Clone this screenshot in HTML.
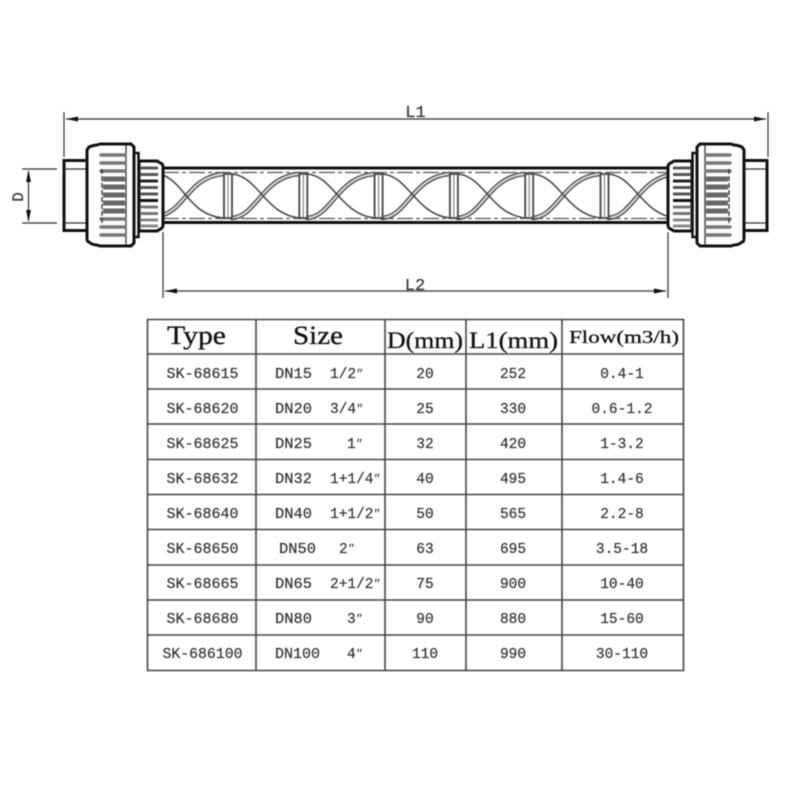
<!DOCTYPE html>
<html><head><meta charset="utf-8"><style>
html,body{margin:0;padding:0;background:#fff}
svg{display:block;filter:blur(.45px)}
.m{font-family:"Liberation Mono",monospace;font-size:14.500px;fill:#333;stroke:#333;stroke-width:.2;text-anchor:middle}
.l{text-anchor:start}
.q{font-family:"Liberation Serif",serif;font-style:italic;font-size:14px}
.h{font-family:"Liberation Serif",serif;fill:#111;stroke:#111;stroke-width:.3}
.t line{stroke:#444;stroke-width:1.600}
</style></head><body>
<svg width="800" height="800" viewBox="0 0 800 800" xmlns="http://www.w3.org/2000/svg">
<defs>
<g id="fit">
<path d="M87 160.500H64V230.500H87" fill="#fff" stroke="#111" stroke-width="3"/>
<path d="M65 169H102M65 223H102M102 169V223" fill="none" stroke="#333" stroke-width="1.300"/>
<path d="M134 153h4.500v84H134z" fill="#fff" stroke="#111" stroke-width="2.500"/>
<path d="M89 147q5-2 8-2l3-1h31l3 3v96l-3 3h-31l-3-1q-5 0-8-3q-2 0-2-4V150z" fill="#fff" stroke="#111" stroke-width="3"/>
<path d="M126 145V245" stroke="#333" stroke-width="1.300" fill="none"/>
<g stroke="#777" stroke-width="3.500" fill="none" stroke-linecap="round">
<path d="M101 155H125M101 163H125M101 171H125M101 219H125M101 227H125M101 235H125"/>
</g>
<g stroke="#666" stroke-width="5" fill="none">
<path d="M103 179H125M103 187H125M103 195H125M103 203H125M103 211H125"/>
</g>
<path d="M102 169V223" stroke="#333" stroke-width="1.300" stroke-dasharray="5 2" fill="none"/>
<path d="M139 161h18l5 3q1 1 1 3v58q0 2-1 3l-5 3h-18z" fill="#fff" stroke="#111" stroke-width="3"/>
<g stroke="#555" stroke-width="3" fill="none">
<path d="M140 168H158M140 174.500H158"/>
<path d="M140 181H158" stroke="#222"/>
<path d="M140 187.500H158M140 194H158"/>
<path d="M140 200.500H158" stroke="#111"/>
<path d="M140 207H158M140 213.500H158" stroke="#777"/>
<path d="M140 220H158M140 226H158" stroke="#888"/>
</g>
</g>
<g id="tw" fill="none" stroke-linecap="round">
<path d="M232 218C257 216 262 177 299 174" stroke="#444" stroke-width="4.500"/>
<path d="M232 218C257 216 262 177 299 174" stroke="#ddd" stroke-width="2"/>
<path d="M232 174C258 176 265 214 299 218" stroke="#444" stroke-width="1.500"/>
</g>
<g id="pt">
<rect x="224" y="174" width="8" height="44" fill="#fff" stroke="#444" stroke-width="1.800"/>
<path d="M228 174V218" stroke="#888" stroke-width="1.200"/>
</g>
</defs>

<!-- dimensions -->
<g stroke="#333" stroke-width="1.200" fill="none">
<path d="M64 112V157M768 112V157"/>
<path d="M66 119H766"/>
<path d="M163 232V298M668 232V298" stroke="#555" stroke-width="1.500"/>
<path d="M165 291H666" stroke="#555" stroke-width="1.500"/>
<path d="M22 169H57M22 223H57"/>
<path d="M28.500 171V221"/>
</g>
<g fill="#111">
<path d="M66 119L78 116.500V121.500z"/><path d="M766 119L754 116.500V121.500z"/>
<path d="M165 291L177 288.500V293.500z"/><path d="M666 291L654 288.500V293.500z"/>
<path d="M28.500 170L26 182H31z"/><path d="M28.500 222L26 210H31z"/>
</g>
<text x="415.500" y="117" class="m" style="font-size:17px">L1</text>
<text x="415" y="290" class="m" style="font-size:17px">L2</text>
<text class="m" style="font-size:16px" transform="translate(23 197) rotate(-90)">D</text>

<!-- pipe -->
<rect x="163" y="168" width="505" height="54.500" fill="#fff" stroke="#111" stroke-width="3"/>
<g fill="none" stroke-linecap="round">
<path d="M163 215C185 208 190 177 223 174" stroke="#444" stroke-width="4.500"/>
<path d="M163 215C185 208 190 177 223 174" stroke="#ddd" stroke-width="2"/>
<path d="M163 175C185 184 190 215 223 218" stroke="#444" stroke-width="1.500"/>
</g>
<use href="#tw"/>
<use href="#tw" x="75.300"/>
<use href="#tw" x="150.600"/>
<use href="#tw" x="225.900"/>
<use href="#tw" x="301.200"/>
<use href="#tw" x="376.500"/>
<path d="M163 172.500H668M163 218.500H668" stroke="#555" stroke-width="1.300" stroke-dasharray="16 3 4 3" fill="none"/>
<use href="#pt"/>
<use href="#pt" x="75.300"/>
<use href="#pt" x="150.600"/>
<use href="#pt" x="225.900"/>
<use href="#pt" x="301.200"/>
<use href="#pt" x="376.500"/>

<!-- fittings -->
<use href="#fit"/>
<use href="#fit" transform="translate(831 0) scale(-1 1)"/>

<!-- table -->
<g class="t">
<line x1="147" y1="319.500" x2="684" y2="319.500"/>
<line x1="147" y1="354" x2="684" y2="354"/>
<line x1="147" y1="389" x2="684" y2="389"/>
<line x1="147" y1="424" x2="684" y2="424"/>
<line x1="147" y1="459.500" x2="684" y2="459.500"/>
<line x1="147" y1="494.500" x2="684" y2="494.500"/>
<line x1="147" y1="529.500" x2="684" y2="529.500"/>
<line x1="147" y1="565" x2="684" y2="565"/>
<line x1="147" y1="600" x2="684" y2="600"/>
<line x1="147" y1="635" x2="684" y2="635"/>
<line x1="147" y1="670.500" x2="684" y2="670.500"/>
<line x1="147.500" y1="319" x2="147.500" y2="671"/>
<line x1="256" y1="319" x2="256" y2="671"/>
<line x1="385" y1="319" x2="385" y2="671"/>
<line x1="466" y1="319" x2="466" y2="671"/>
<line x1="562" y1="319" x2="562" y2="671"/>
<line x1="683.500" y1="319" x2="683.500" y2="671"/>
</g>

<text class="h" x="167" y="344" font-size="26" textLength="59" lengthAdjust="spacingAndGlyphs">Type</text>
<text class="h" x="293" y="344" font-size="26" textLength="50" lengthAdjust="spacingAndGlyphs">Size</text>
<text class="h" x="387" y="348" font-size="23" textLength="76" lengthAdjust="spacingAndGlyphs">D(mm)</text>
<text class="h" x="469" y="348" font-size="23" textLength="89" lengthAdjust="spacingAndGlyphs">L1(mm)</text>
<text class="h" x="569" y="343" font-size="18" textLength="110" lengthAdjust="spacingAndGlyphs">Flow(m3/h)</text>

<g>
<text class="m" x="202.500" y="378" textLength="72" lengthAdjust="spacingAndGlyphs">SK-68615</text>
<text class="m l" x="275" y="378" textLength="37" lengthAdjust="spacingAndGlyphs">DN15</text><text class="m l" x="330" y="378">1/2<tspan class="q">″</tspan></text>
<text class="m" x="425" y="378">20</text><text class="m" x="513" y="378">252</text><text class="m" x="622" y="378">0.4-1</text>

<text class="m" x="202.500" y="413" textLength="72" lengthAdjust="spacingAndGlyphs">SK-68620</text>
<text class="m l" x="275" y="413" textLength="37" lengthAdjust="spacingAndGlyphs">DN20</text><text class="m l" x="330" y="413">3/4<tspan class="q">″</tspan></text>
<text class="m" x="425" y="413">25</text><text class="m" x="513" y="413">330</text><text class="m" x="622" y="413">0.6-1.2</text>

<text class="m" x="202.500" y="448" textLength="72" lengthAdjust="spacingAndGlyphs">SK-68625</text>
<text class="m l" x="275" y="448" textLength="37" lengthAdjust="spacingAndGlyphs">DN25</text><text class="m l" x="347" y="448">1<tspan class="q">″</tspan></text>
<text class="m" x="425" y="448">32</text><text class="m" x="513" y="448">420</text><text class="m" x="622" y="448">1-3.2</text>

<text class="m" x="202.500" y="483" textLength="72" lengthAdjust="spacingAndGlyphs">SK-68632</text>
<text class="m l" x="275" y="483" textLength="37" lengthAdjust="spacingAndGlyphs">DN32</text><text class="m l" x="330" y="483">1+1/4<tspan class="q">″</tspan></text>
<text class="m" x="425" y="483">40</text><text class="m" x="513" y="483">495</text><text class="m" x="622" y="483">1.4-6</text>

<text class="m" x="202.500" y="518" textLength="72" lengthAdjust="spacingAndGlyphs">SK-68640</text>
<text class="m l" x="275" y="518" textLength="37" lengthAdjust="spacingAndGlyphs">DN40</text><text class="m l" x="330" y="518">1+1/2<tspan class="q">″</tspan></text>
<text class="m" x="425" y="518">50</text><text class="m" x="513" y="518">565</text><text class="m" x="622" y="518">2.2-8</text>

<text class="m" x="202.500" y="553" textLength="72" lengthAdjust="spacingAndGlyphs">SK-68650</text>
<text class="m l" x="279" y="553" textLength="37" lengthAdjust="spacingAndGlyphs">DN50</text><text class="m l" x="339" y="553">2<tspan class="q">″</tspan></text>
<text class="m" x="425" y="553">63</text><text class="m" x="513" y="553">695</text><text class="m" x="622" y="553">3.5-18</text>

<text class="m" x="202.500" y="588" textLength="72" lengthAdjust="spacingAndGlyphs">SK-68665</text>
<text class="m l" x="275" y="588" textLength="37" lengthAdjust="spacingAndGlyphs">DN65</text><text class="m l" x="330" y="588">2+1/2<tspan class="q">″</tspan></text>
<text class="m" x="425" y="588">75</text><text class="m" x="513" y="588">900</text><text class="m" x="622" y="588">10-40</text>

<text class="m" x="202.500" y="623" textLength="72" lengthAdjust="spacingAndGlyphs">SK-68680</text>
<text class="m l" x="275" y="623" textLength="37" lengthAdjust="spacingAndGlyphs">DN80</text><text class="m l" x="347" y="623">3<tspan class="q">″</tspan></text>
<text class="m" x="425" y="623">90</text><text class="m" x="513" y="623">880</text><text class="m" x="622" y="623">15-60</text>

<text class="m" x="202.500" y="658" textLength="80" lengthAdjust="spacingAndGlyphs">SK-686100</text>
<text class="m l" x="275" y="658" textLength="45" lengthAdjust="spacingAndGlyphs">DN100</text><text class="m l" x="347" y="658">4<tspan class="q">″</tspan></text>
<text class="m" x="425" y="658">110</text><text class="m" x="513" y="658">990</text><text class="m" x="622" y="658">30-110</text>
</g>
</svg>
</body></html>
